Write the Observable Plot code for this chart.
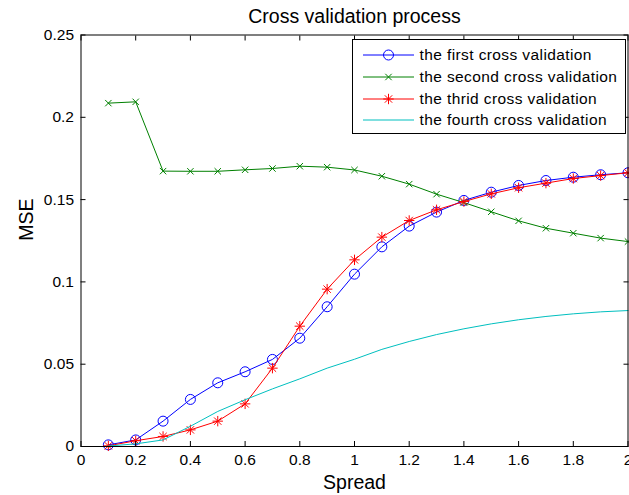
<!DOCTYPE html>
<html>
<head>
<meta charset="utf-8">
<script src="https://cdn.jsdelivr.net/npm/d3@7"></script>
<script src="https://cdn.jsdelivr.net/npm/@observablehq/plot@0.6"></script>
<style>
  html, body { margin: 0; padding: 0; background: #fff; }
  #wrap { position: relative; width: 629px; height: 495px; font-family: "Liberation Sans", Arial, Helvetica, sans-serif; }
  #legend { position: absolute; left: 352px; top: 39px; width: 274px; height: 95px; background: #fff; border: 1px solid #000; box-sizing: border-box; }
  #legend .row { position: absolute; left: 0; height: 22px; display: flex; align-items: center; }
  #legend .row span { font-size: 15.5px; color: #000; letter-spacing: 0.4px; white-space: nowrap; }
</style>
</head>
<body>
<div id="wrap"><div id="legend"></div></div>
<script>
const spread = [0.1,0.2,0.3,0.4,0.5,0.6,0.7,0.8,0.9,1.0,1.1,1.2,1.3,1.4,1.5,1.6,1.7,1.8,1.9,2.0];
const first  = [0.001,0.004,0.0154,0.0286,0.0387,0.0454,0.0529,0.0658,0.0849,0.1047,0.1213,0.1339,0.1424,0.1495,0.1545,0.1586,0.1616,0.1636,0.1651,0.1663];
const second = [0.2086,0.2094,0.1673,0.1672,0.1672,0.1681,0.1689,0.1703,0.1697,0.1680,0.1642,0.1594,0.1533,0.1482,0.1426,0.1371,0.1326,0.1296,0.1266,0.1245];
const third  = [0.0004,0.0035,0.0061,0.0101,0.0154,0.0259,0.0476,0.0731,0.0956,0.1134,0.1272,0.1373,0.1438,0.1488,0.1535,0.1572,0.1600,0.1628,0.1646,0.1663];
const fourth = [0.0003,0.0016,0.0040,0.0123,0.0213,0.0284,0.0350,0.0411,0.0476,0.0530,0.0590,0.0638,0.0680,0.0715,0.0745,0.0770,0.0790,0.0806,0.0818,0.0826];
const seriesNames = ["the first cross validation","the second cross validation","the thrid cross validation","the fourth cross validation"];
const seriesColors = ["#0000ff","#008000","#ff0000","#00bfbf"];
const xTicks = [0,0.2,0.4,0.6,0.8,1,1.2,1.4,1.6,1.8,2];
const yTicks = [0,0.05,0.1,0.15,0.2,0.25];
const titleText = "Cross validation process";
const xLabel = "Spread";
const yLabel = "MSE";

// MATLAB-like 8-armed asterisk marker
const asterisk8 = {
  draw(context, size) {
    const r = Math.sqrt(size / Math.PI);
    const d = r * Math.SQRT1_2;
    context.moveTo(-r, 0); context.lineTo(r, 0);
    context.moveTo(0, -r); context.lineTo(0, r);
    context.moveTo(-d, -d); context.lineTo(d, d);
    context.moveTo(-d, d); context.lineTo(d, -d);
  }
};
const seriesSymbols = [d3.symbolCircle, d3.symbolTimes, asterisk8, null];
const symR = [5, 3, 5.2, 0];

const allSeries = [first, second, third, fourth];
const rows = [];
allSeries.forEach((vals, si) => vals.forEach((v, i) => rows.push({x: spread[i], y: v, s: si})));

const fmt = d => String(+d.toFixed(2));
const font = "\"Liberation Sans\", Arial, Helvetica, sans-serif";

const marks = [];
allSeries.forEach((vals, si) => {
  const data = rows.filter(r => r.s === si);
  marks.push(Plot.line(data, {x: "x", y: "y", stroke: seriesColors[si], strokeWidth: 1}));
  if (seriesSymbols[si]) {
    marks.push(Plot.dot(data, {x: "x", y: "y", stroke: seriesColors[si], symbol: seriesSymbols[si], r: symR[si], strokeWidth: 1, fill: "none"}));
  }
});

const chart = Plot.plot({
  width: 629,
  height: 495,
  marginLeft: 80.5,
  marginRight: 1.5,
  marginTop: 34.5,
  marginBottom: 49,
  style: {fontFamily: font, background: "#fff", overflow: "visible"},
  x: {domain: [0, 2]},
  y: {domain: [0, 0.25]},
  marks: [
    ...marks,
    Plot.frame({stroke: "#000", strokeWidth: 1}),
    Plot.axisX({anchor: "bottom", ticks: xTicks, tickFormat: fmt, tickSize: -5, tickPadding: 12, fontSize: 15.5, label: null, color: "#000"}),
    Plot.axisX({anchor: "top", ticks: xTicks, tickFormat: () => "", tickSize: -5, label: null}),
    Plot.axisY({anchor: "left", ticks: yTicks, tickFormat: fmt, tickSize: -5, tickPadding: 12, fontSize: 15.5, label: null, color: "#000"}),
    Plot.axisY({anchor: "right", ticks: yTicks, tickFormat: () => "", tickSize: -5, label: null}),
    Plot.text([titleText], {frameAnchor: "top", text: d => d, dy: -12, lineAnchor: "bottom", fontSize: 19.5, fill: "#000"}),
    Plot.text([xLabel], {frameAnchor: "bottom", text: d => d, dy: 42, lineAnchor: "bottom", fontSize: 19.5, fill: "#000"}),
    Plot.text([yLabel], {frameAnchor: "left", text: d => d, dx: -48.5, rotate: -90, lineAnchor: "bottom", fontSize: 19.5, fill: "#000"})
  ]
});
const wrap = document.getElementById("wrap");
wrap.insertBefore(chart, wrap.firstChild);

// legend
const legend = document.getElementById("legend");
seriesNames.forEach((name, i) => {
  const row = document.createElement("div");
  row.className = "row";
  row.style.top = (4.3 + i * 21.7) + "px";
  const ns = "http://www.w3.org/2000/svg";
  const svg = document.createElementNS(ns, "svg");
  svg.setAttribute("width", 51); svg.setAttribute("height", 22);
  svg.style.marginLeft = "9.5px";
  svg.style.marginRight = "6px";
  const ln = document.createElementNS(ns, "line");
  ln.setAttribute("x1", 0); ln.setAttribute("x2", 51); ln.setAttribute("y1", 11); ln.setAttribute("y2", 11);
  ln.setAttribute("stroke", seriesColors[i]); ln.setAttribute("stroke-width", 1);
  svg.appendChild(ln);
  if (seriesSymbols[i]) {
    const p = document.createElementNS(ns, "path");
    p.setAttribute("d", d3.symbol(seriesSymbols[i], Math.PI * symR[i] * symR[i])());
    p.setAttribute("transform", "translate(25.5,11)");
    p.setAttribute("fill", "none"); p.setAttribute("stroke", seriesColors[i]);
    svg.appendChild(p);
  }
  row.appendChild(svg);
  const sp = document.createElement("span");
  sp.textContent = name;
  row.appendChild(sp);
  legend.appendChild(row);
});
</script>
</body>
</html>
